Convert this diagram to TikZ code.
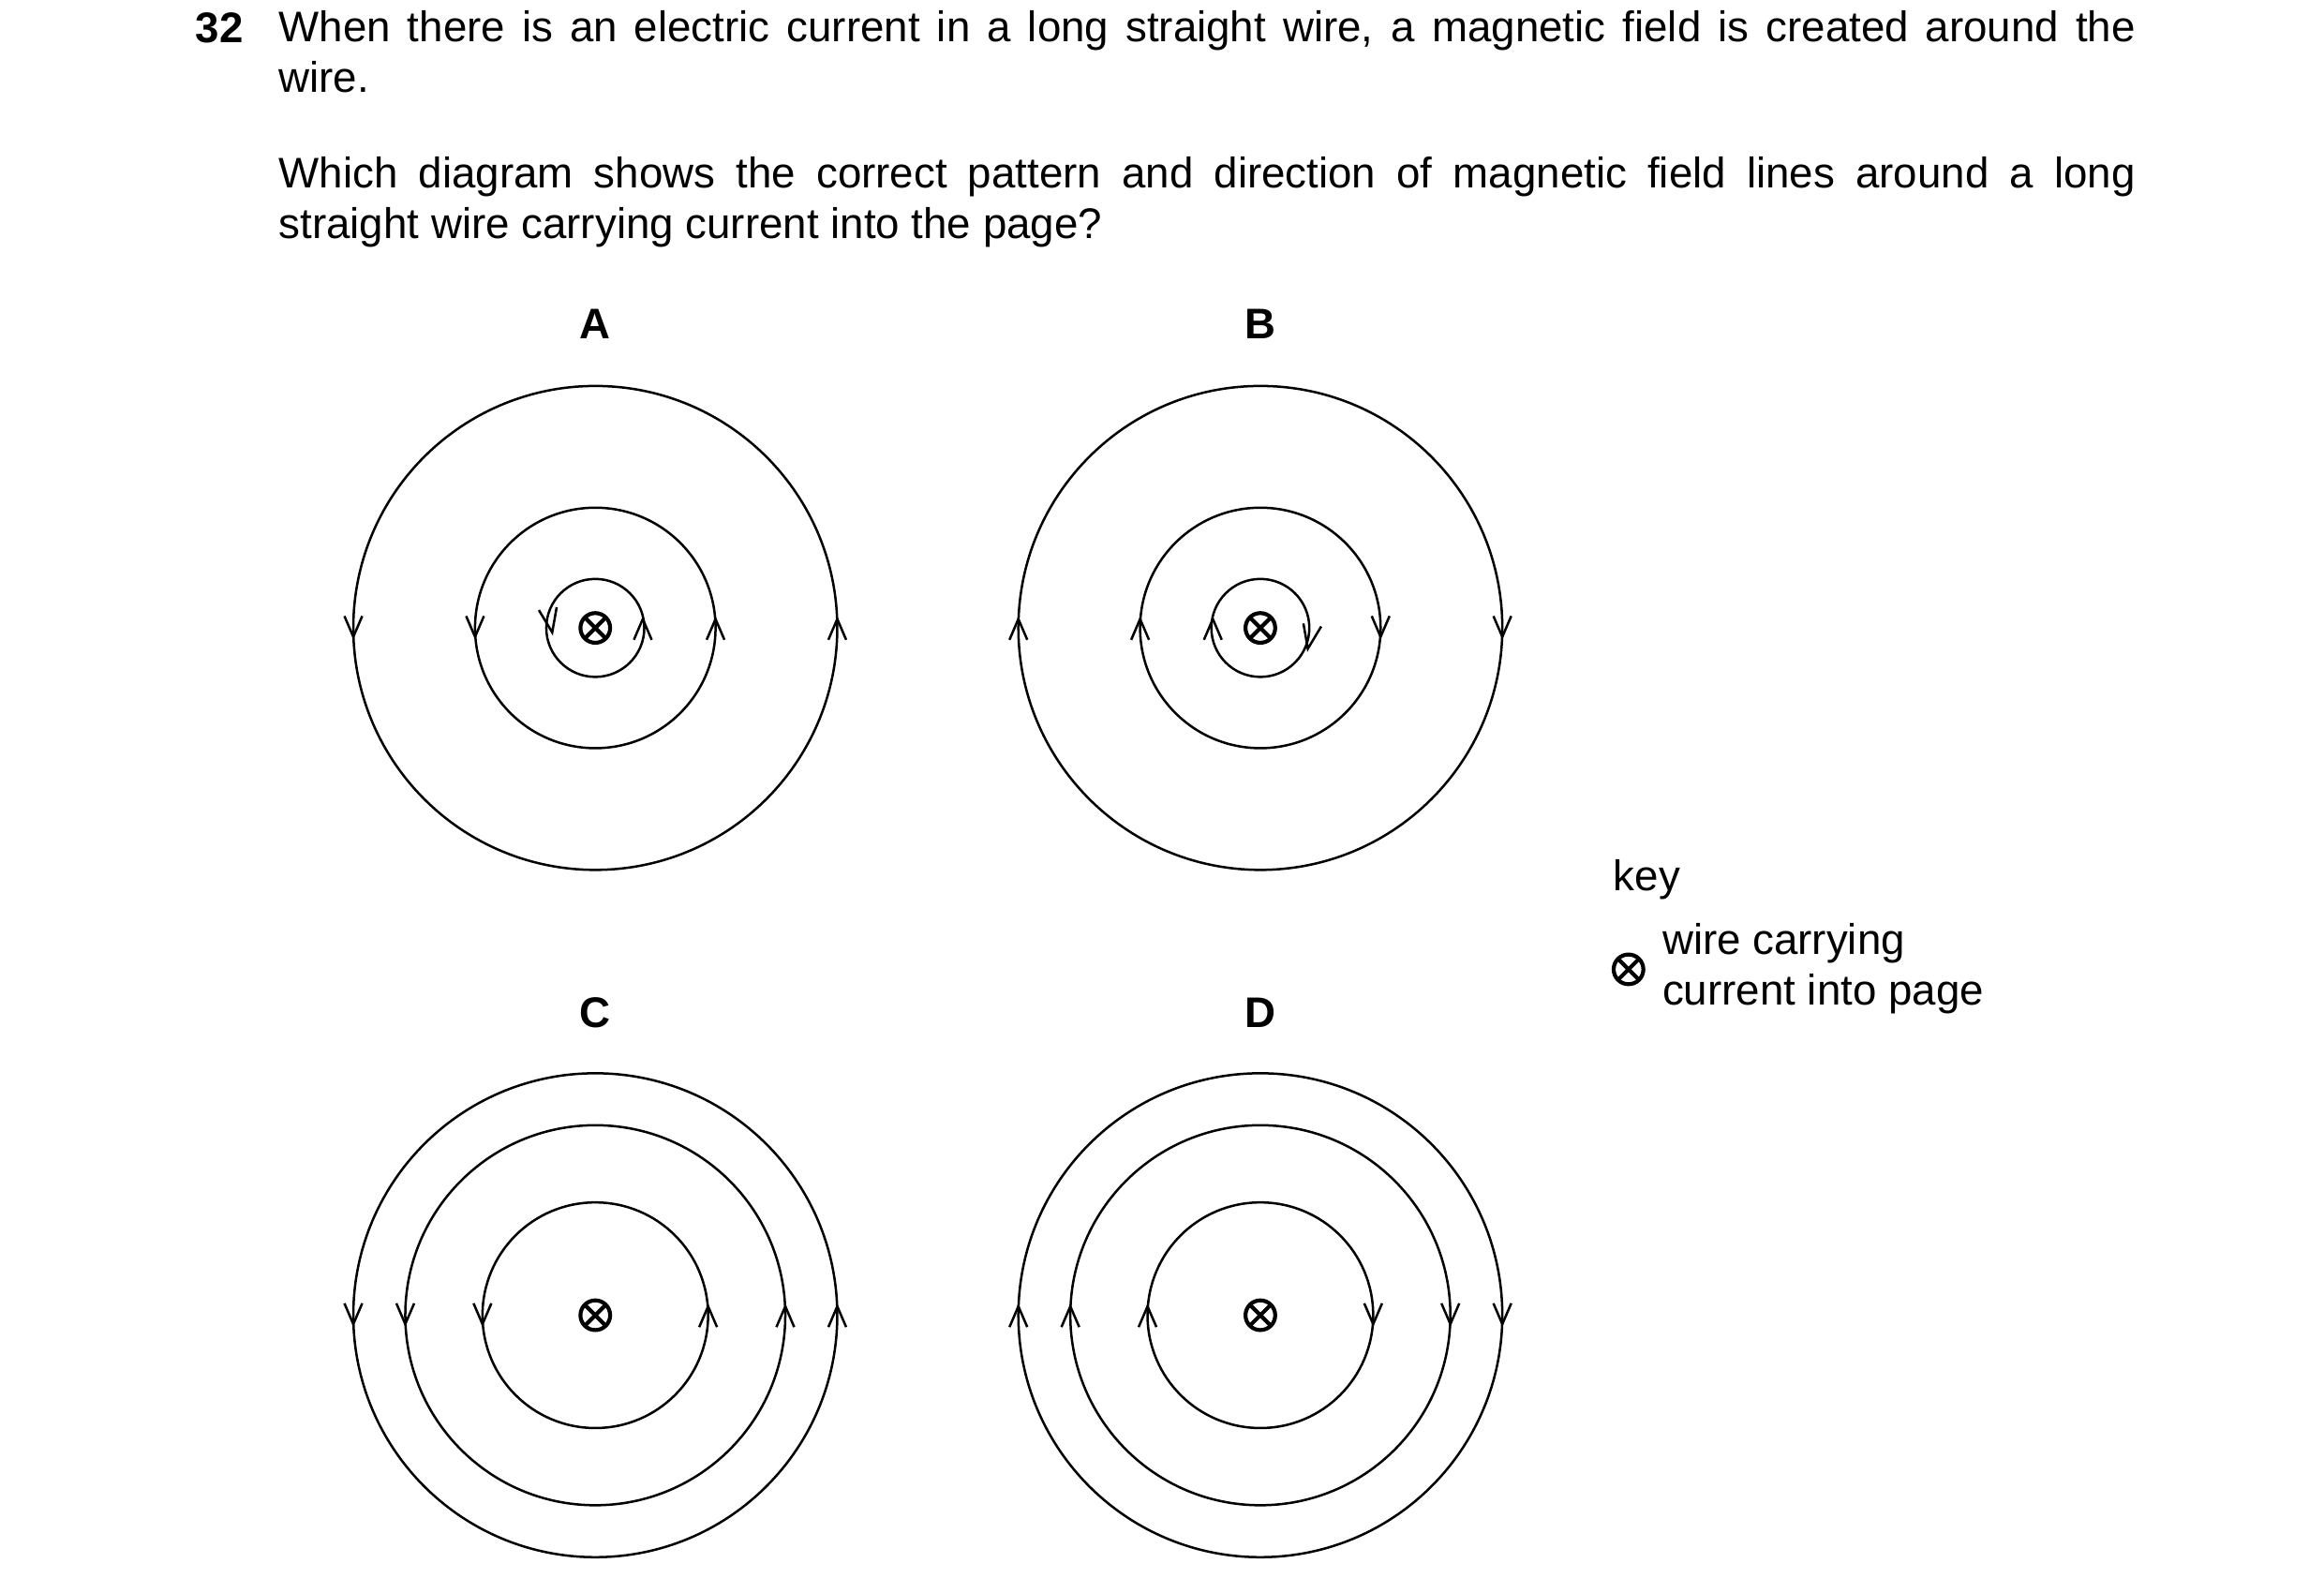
\documentclass[tikz,border=0pt]{standalone}
\usepackage{fontspec}
\setmainfont{Liberation Sans}
\begin{document}
\begin{tikzpicture}[x=0.01cm,y=-0.01cm,line width=0.5pt,
  txt/.style={inner sep=0,font=\fontsize{8.2pt}{9.7pt}\selectfont},
  lab/.style={txt,font=\fontsize{8.2pt}{9.7pt}\selectfont\bfseries},
  fl/.style={line width=0.45pt},
  wire/.style={circle,draw,line width=0.75pt,minimum size=0.2cm,inner sep=0,path picture={
    \draw[line width=0.75pt] (path picture bounding box.north west)--(path picture bounding box.south east)
      (path picture bounding box.north east)--(path picture bounding box.south west);}}]
\useasboundingbox (0,0) rectangle (1565.5,1073.1);
\newcommand{\ad}[2]{\draw[fl] (#1-6,#2-8)--(#1,#2+6)--(#1+6,#2-8);}
\newcommand{\au}[2]{\draw[fl] (#1-6,#2+8)--(#1,#2-6)--(#1+6,#2+8);}
\node[lab,anchor=base west] (n32) at (131,29) {32};
\node[txt,anchor=north west,text width=12.5cm,align=justify] (q1) at (187,6) {When there is an electric current in a long straight wire, a magnetic field is created around the\linebreak wire.};
\node[txt,anchor=north west,text width=12.5cm,align=justify] (q2) at (187,105) {Which diagram shows the correct pattern and direction of magnetic field lines around a long\linebreak straight wire carrying current into the page?};
\node[lab] (lA) at (401,218) {A};
\node[lab] (lB) at (849,218) {B};
\node[lab] (lC) at (401,682) {C};
\node[lab] (lD) at (849,682) {D};
% A
\foreach \r in {163,81,33} \draw[fl] (401,423) circle (\r);
\node[wire] (wA) at (401,423) {};
\foreach \r in {163,81} {\ad{401-\r}{423}\au{401+\r}{423}}
\draw[fl] (363,411)--(372,426)--(375,409); \au{433}{423}
% B
\foreach \r in {163,81,33} \draw[fl] (849,423) circle (\r);
\node[wire] (wB) at (849,423) {};
\foreach \r in {163,81} {\au{849-\r}{423}\ad{849+\r}{423}}
\au{817}{423} \draw[fl] (878,420)--(881,437)--(890,422);
% C
\foreach \r in {163,128,76} {\draw[fl] (401,886) circle (\r); \ad{401-\r}{886}\au{401+\r}{886}}
\node[wire] (wC) at (401,886) {};
% D
\foreach \r in {163,128,76} {\draw[fl] (849,886) circle (\r); \au{849-\r}{886}\ad{849+\r}{886}}
\node[wire] (wD) at (849,886) {};
% key
\node[txt,anchor=base west] (key) at (1086,600) {key};
\node[wire] (wK) at (1097,653) {};
\node[txt,anchor=base west] (k1) at (1119,643) {wire carrying};
\node[txt,anchor=base west] (k2) at (1119,677) {current into page};
\end{tikzpicture}
\end{document}
